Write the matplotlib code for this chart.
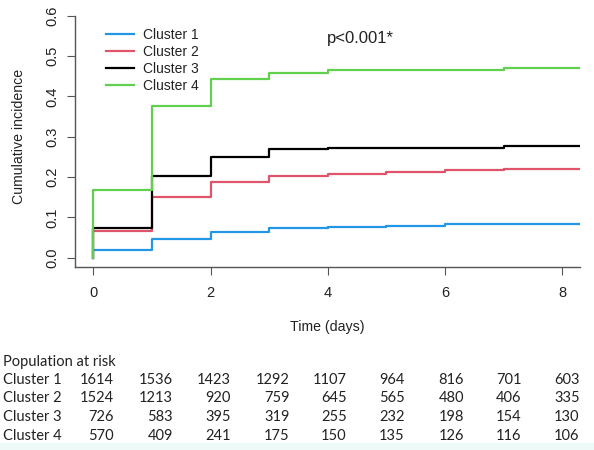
import matplotlib
matplotlib.use("Agg")
import matplotlib.pyplot as plt
import numpy as np

# cumulative incidence by day (step changes at each day)
days = [0, 1, 2, 3, 4, 5, 6, 7]
cluster1 = [0.019, 0.046, 0.065, 0.074, 0.077, 0.079, 0.083, 0.085]
cluster2 = [0.067, 0.151, 0.187, 0.203, 0.208, 0.212, 0.217, 0.221]
cluster3 = [0.074, 0.203, 0.250, 0.269, 0.272, 0.272, 0.272, 0.277]
cluster4 = [0.169, 0.375, 0.443, 0.458, 0.465, 0.465, 0.465, 0.470]
labels = ["Cluster 1", "Cluster 2", "Cluster 3", "Cluster 4"]
colors = ["#2297E6", "#DF536B", "black", "#61D04F"]

# population at risk table
risk = [
    [1614, 1536, 1423, 1292, 1107, 964, 816, 701, 603],
    [1524, 1213, 920, 759, 645, 565, 480, 406, 335],
    [726, 583, 395, 319, 255, 232, 198, 154, 130],
    [570, 409, 241, 175, 150, 135, 126, 116, 106],
]

W, H = 594, 450
plt.rcParams['font.family'] = ['Liberation Sans', 'DejaVu Sans']
fig = plt.figure(figsize=(W / 100, H / 100), dpi=100)

ax = fig.add_axes([74.5 / W, 1 - 266.7 / H, (580 - 74.5) / W, (266.7 - 6) / H])
xmax = 8.3
for vals, lab, col in zip([cluster1, cluster2, cluster3, cluster4], labels, colors):
    x = [0] + days + [xmax]
    y = [0] + vals + [vals[-1]]
    ax.plot(x, y, drawstyle="steps-post", color=col, lw=1.6, label=lab)

ax.set_xlim(-0.32, xmax)
ax.set_ylim(-0.022, 0.624)
ax.set_xticks([0, 2, 4, 6, 8])
ax.set_yticks([0.0, 0.1, 0.2, 0.3, 0.4, 0.5, 0.6])
ax.set_yticklabels(["0.0", "0.1", "0.2", "0.3", "0.4", "0.5", "0.6"], rotation=90, va="center")
ax.spines["top"].set_visible(False)
ax.spines["right"].set_visible(False)
ax.spines["left"].set_bounds(-0.022, 0.6)
for s in ["left", "bottom"]:
    ax.spines[s].set_color("#555555")
    ax.spines[s].set_linewidth(1.0)
ax.tick_params(length=6, color="#555555", labelsize=10.5, labelcolor="#222222")
ax.tick_params(axis="x", pad=8)
ax.tick_params(axis="y", pad=5)
ax.set_xlabel("Time (days)", fontsize=10.2, color="#222222", labelpad=14)
ax.set_ylabel("Cumulative incidence", fontsize=10.2, color="#222222", labelpad=14)

ax.legend(loc="upper left", bbox_to_anchor=(99 / W, 1 - 21 / H), bbox_transform=fig.transFigure,
          frameon=False, fontsize=10, handlelength=2.0, handletextpad=0.65,
          labelspacing=0.22, borderpad=0, labelcolor="#222222")
fig.text(327 / W, 1 - 38 / H, "p<0.001*", fontsize=12, color="#222222", va="center")

# risk table below the plot
tf = ['Liberation Sans Narrow', 'Lato']
ts = 10.5
fig.text(3 / W, 1 - 362 / H, "Population at risk", fontsize=ts, family=tf, va="center", color="#222222")
row_y = [380, 398.5, 417.3, 436]
col_r = [114, 172.7, 230.7, 289.3, 346.7, 404.7, 464, 521.7, 579.7]
for lab, row, yy in zip(labels, risk, row_y):
    fig.text(3 / W, 1 - yy / H, lab, fontsize=ts, family=tf, va="center", color="#222222")
    for v, xr in zip(row, col_r):
        fig.text(xr / W, 1 - yy / H, str(v), fontsize=ts, family=tf, va="center", ha="right", color="#222222")

# faint strip at the bottom edge
fig.patches.append(plt.Rectangle((0, 0), 1, 7 / H, transform=fig.transFigure,
                                 color="#eefaf7", zorder=-1))

fig.savefig("out.png", dpi=100)
